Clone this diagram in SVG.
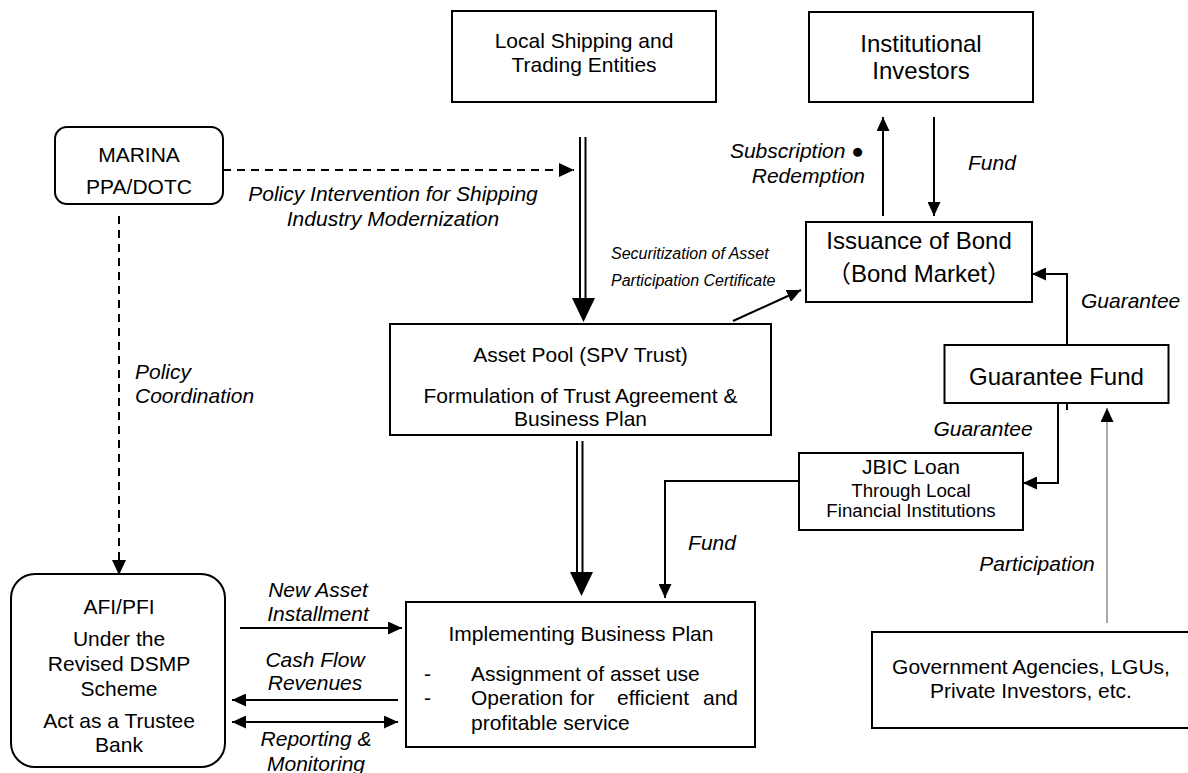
<svg xmlns="http://www.w3.org/2000/svg" width="1188" height="773" viewBox="0 0 1188 773">
  <style>
    .box { fill: #fff; stroke: #000; stroke-width: 2; }
    .t { font-family: "Liberation Sans", Arial, sans-serif; font-size: 21px; fill: #000; }
    .c { text-anchor: middle; }
    .i { font-style: italic; }
    .big { font-size: 24px; }
    .ln { fill: none; stroke: #000; stroke-width: 2; }
    .dash { fill: none; stroke: #000; stroke-width: 2; stroke-dasharray: 8 6; }
    .thin { fill: none; stroke: #555; stroke-width: 1; }
  </style>
  <defs>
    <marker id="ah" viewBox="0 0 14 13" refX="14" refY="6.5" markerWidth="14" markerHeight="13" markerUnits="userSpaceOnUse" orient="auto-start-reverse">
      <path d="M0,0 L14,6.5 L0,13 Z" fill="#000"/>
    </marker>
    <marker id="ahs" viewBox="0 0 15 14" refX="15" refY="7" markerWidth="15" markerHeight="14" markerUnits="userSpaceOnUse" orient="auto">
      <path d="M0,0 L15,7 L0,14 Z" fill="#000"/>
    </marker>
  </defs>
  <rect width="1188" height="773" fill="#fff"/>

  <!-- connectors -->
  <g id="connectors">
    <!-- MARINA policy links -->
    <path class="dash" d="M223,170 H574" marker-end="url(#ahs)"/>
    <path class="dash" d="M119,216 V575" marker-end="url(#ahs)"/>
    <!-- double-shaft flow: Local Shipping -> Asset Pool -->
    <path class="ln" d="M580,137 V300 M585.5,137 V300"/>
    <path d="M572,298 L595,298 L583.5,322 Z" fill="#000"/>
    <!-- double-shaft flow: Asset Pool -> Implementing -->
    <path class="ln" d="M577,441 V574 M582.5,441 V574"/>
    <path d="M570,572 L593,572 L581.5,596 Z" fill="#000"/>
    <!-- securitization to bond issuance -->
    <path class="ln" d="M733,321 L801,290" marker-end="url(#ah)"/>
    <!-- subscription / fund with institutional investors -->
    <path class="ln" d="M883,216 V117" marker-end="url(#ah)"/>
    <path class="ln" d="M934,117 V216" marker-end="url(#ah)"/>
    <!-- guarantee fund -> bond -->
    <path class="ln" d="M1067,345 V274 H1032" marker-end="url(#ah)"/>
    <path class="ln" d="M1067,403 V410"/>
    <!-- guarantee fund -> JBIC loan -->
    <path class="ln" d="M1058,403 V483 H1023" marker-end="url(#ah)"/>
    <!-- JBIC loan fund -> implementing -->
    <path class="ln" d="M799,481 H665 V598" marker-end="url(#ah)"/>
    <!-- participation -->
    <path class="thin" d="M1107,623 V408" marker-end="url(#ah)"/>
    <!-- AFI/PFI exchanges -->
    <path class="ln" d="M240,628 H402" marker-end="url(#ah)"/>
    <path class="ln" d="M398,700 H232" marker-end="url(#ah)"/>
    <path class="ln" d="M232,722 H398" marker-start="url(#ah)" marker-end="url(#ah)"/>
  </g>

  <!-- connector labels -->
  <g id="labels" class="t i">
    <text class="t i c" x="393" y="201">Policy Intervention for Shipping</text>
    <text class="t i c" x="393" y="226">Industry Modernization</text>
    <text class="t i" x="135" y="379">Policy</text>
    <text class="t i" x="135" y="403">Coordination</text>
    <text class="t i" x="611" y="259" style="font-size:16px">Securitization of Asset</text>
    <text class="t i" x="611" y="286" style="font-size:16px">Participation Certificate</text>
    <text class="t i" x="864" y="158" text-anchor="end">Subscription ●</text>
    <text class="t i" x="865" y="183" text-anchor="end">Redemption</text>
    <text class="t i" x="968" y="170">Fund</text>
    <text class="t i" x="1081" y="308">Guarantee</text>
    <text class="t i c" x="983" y="436">Guarantee</text>
    <text class="t i c" x="712" y="550">Fund</text>
    <text class="t i c" x="1037" y="571">Participation</text>
    <text class="t i c" x="318" y="597">New Asset</text>
    <text class="t i c" x="318" y="621">Installment</text>
    <text class="t i c" x="315" y="667">Cash Flow</text>
    <text class="t i c" x="315" y="690">Revenues</text>
    <text class="t i c" x="316" y="746">Reporting &amp;</text>
    <text class="t i c" x="316" y="771">Monitoring</text>
  </g>

  <g id="local-shipping">
    <rect class="box" x="452" y="11" width="264" height="91"/>
    <text class="t c" x="584" y="48">Local Shipping and</text>
    <text class="t c" x="584" y="72">Trading Entities</text>
  </g>

  <g id="institutional-investors">
    <rect class="box" x="809" y="12" width="224" height="90"/>
    <text class="t c big" x="921" y="52">Institutional</text>
    <text class="t c big" x="921" y="79">Investors</text>
  </g>

  <g id="marina">
    <rect class="box" x="55" y="127" width="168" height="77" rx="12"/>
    <text class="t c" x="139" y="162">MARINA</text>
    <text class="t c" x="139" y="194">PPA/DOTC</text>
  </g>

  <g id="bond-issuance">
    <rect class="box" x="806" y="222" width="226" height="80"/>
    <text class="t c big" x="919" y="249">Issuance of Bond</text>
    <text class="t c big" x="919" y="282" style="font-family:'Liberation Sans','Noto Sans CJK JP',sans-serif">（Bond Market）</text>
  </g>

  <g id="asset-pool">
    <rect class="box" x="390" y="324" width="381" height="111"/>
    <text class="t c" x="580.5" y="362">Asset Pool (SPV Trust)</text>
    <text class="t c" x="580.5" y="403">Formulation of Trust Agreement &amp;</text>
    <text class="t c" x="580.5" y="426">Business Plan</text>
  </g>

  <g id="guarantee-fund">
    <rect class="box" x="944.5" y="345" width="224" height="58"/>
    <text class="t c big" x="1056.5" y="385">Guarantee Fund</text>
  </g>

  <g id="jbic-loan">
    <rect class="box" x="799" y="453" width="224" height="77"/>
    <text class="t c" x="911" y="474">JBIC Loan</text>
    <text class="t c" x="911" y="497" style="font-size:18.7px">Through Local</text>
    <text class="t c" x="911" y="517" style="font-size:18.7px">Financial Institutions</text>
  </g>

  <g id="afi-pfi">
    <rect class="box" x="11" y="574" width="214" height="193" rx="24"/>
    <text class="t c" x="119" y="614">AFI/PFI</text>
    <text class="t c" x="119" y="646">Under the</text>
    <text class="t c" x="119" y="671">Revised DSMP</text>
    <text class="t c" x="119" y="696">Scheme</text>
    <text class="t c" x="119" y="728">Act as a Trustee</text>
    <text class="t c" x="119" y="752">Bank</text>
  </g>

  <g id="implementing-plan">
    <rect class="box" x="406" y="602" width="349" height="145"/>
    <text class="t c" x="581" y="641">Implementing Business Plan</text>
    <text class="t" x="424" y="681">-</text>
    <text class="t" x="471" y="681">Assignment of asset use</text>
    <text class="t" x="424" y="705">-</text>
    <text class="t" x="471" y="705">Operation</text>
    <text class="t" x="570" y="705">for</text>
    <text class="t" x="617" y="705">efficient</text>
    <text class="t" x="738" y="705" text-anchor="end">and</text>
    <text class="t" x="471" y="730">profitable service</text>
  </g>

  <g id="government-agencies">
    <rect class="box" x="872" y="632" width="330" height="96"/>
    <text class="t c" x="1031" y="674">Government Agencies, LGUs,</text>
    <text class="t c" x="1031" y="698">Private Investors, etc.</text>
  </g>
</svg>
